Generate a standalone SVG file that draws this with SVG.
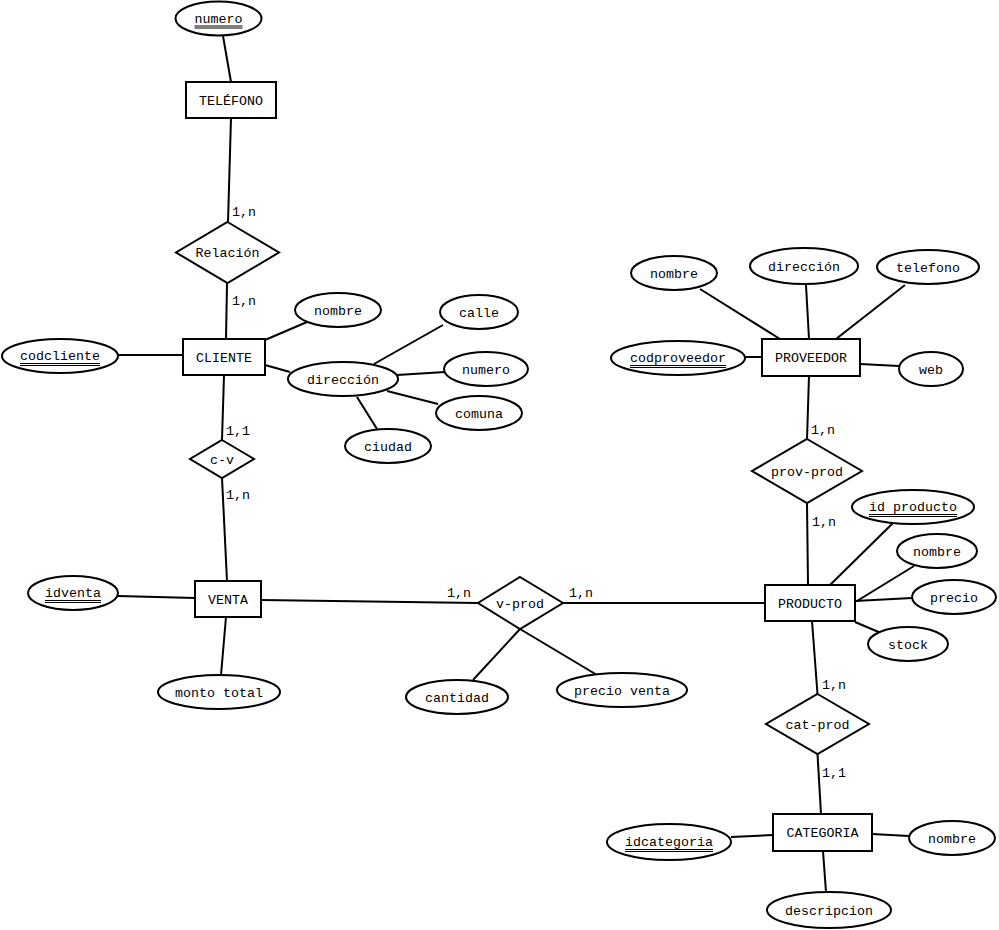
<svg xmlns="http://www.w3.org/2000/svg" width="999" height="930" viewBox="0 0 999 930">
<style>
.bg{fill:#fff}
.c line{stroke:#000;stroke-width:2}
.s{fill:#fff;stroke:#000;stroke-width:2}
text{font-family:"Liberation Mono","Courier New",monospace;font-size:13.3px;fill:#000}
.m{text-anchor:middle}
.u{stroke:#000;stroke-width:1.2}
</style>
<rect class="bg" x="0" y="0" width="999" height="930"/>
<g id="connectors" class="c">
<line x1="223" y1="36" x2="231" y2="82"/>
<line x1="231" y1="118" x2="228" y2="222"/>
<line x1="227" y1="283" x2="226" y2="339"/>
<line x1="118" y1="355" x2="183" y2="355"/>
<line x1="265" y1="340" x2="307" y2="322"/>
<line x1="265" y1="365" x2="290" y2="372"/>
<line x1="374" y1="364" x2="443" y2="325"/>
<line x1="397" y1="375" x2="445" y2="372"/>
<line x1="387" y1="391" x2="438" y2="404"/>
<line x1="357" y1="397" x2="377" y2="429"/>
<line x1="224" y1="375" x2="222" y2="440"/>
<line x1="222" y1="478" x2="227" y2="581"/>
<line x1="118" y1="596" x2="195" y2="598"/>
<line x1="226" y1="617" x2="221" y2="675"/>
<line x1="261" y1="600" x2="478" y2="603"/>
<line x1="520" y1="629" x2="473" y2="680"/>
<line x1="520" y1="629" x2="597" y2="675"/>
<line x1="563" y1="603" x2="765" y2="603"/>
<line x1="807" y1="503" x2="808" y2="585"/>
<line x1="830" y1="585" x2="893" y2="523"/>
<line x1="857" y1="601" x2="914" y2="566"/>
<line x1="855" y1="601" x2="912" y2="598"/>
<line x1="855" y1="622" x2="881" y2="633"/>
<line x1="812" y1="621" x2="817.5" y2="694"/>
<line x1="817.5" y1="754" x2="821" y2="814"/>
<line x1="731" y1="837" x2="773" y2="835"/>
<line x1="872" y1="834" x2="909" y2="836"/>
<line x1="823" y1="851" x2="826" y2="892"/>
<line x1="700" y1="289" x2="780" y2="339"/>
<line x1="806" y1="285" x2="809" y2="339"/>
<line x1="905" y1="285" x2="836" y2="339"/>
<line x1="745" y1="357" x2="762" y2="357"/>
<line x1="860" y1="364" x2="899" y2="366"/>
<line x1="809" y1="376" x2="807" y2="439"/>
</g>
<g id="cardinalities">
<text x="232" y="216">1,n</text>
<text x="232" y="305">1,n</text>
<text x="226" y="435">1,1</text>
<text x="226" y="499">1,n</text>
<text x="447" y="597">1,n</text>
<text x="569" y="597">1,n</text>
<text x="811" y="434">1,n</text>
<text x="812" y="526">1,n</text>
<text x="822" y="689">1,n</text>
<text x="822" y="777">1,1</text>
</g>
<g id="tel-numero"><ellipse class="s" cx="218.5" cy="18.5" rx="43" ry="17"/><text class="m" x="218.5" y="22.5">numero</text><line class="u" x1="194.5" y1="26" x2="242.5" y2="26"/><line class="u" x1="194.5" y1="28" x2="242.5" y2="28"/></g>
<g id="telefono-entity"><rect class="s" x="186" y="82" width="90" height="36"/><text class="m" x="231" y="104.5">TELÉFONO</text></g>
<g id="relacion"><polygon class="s" points="227.5,222 279,252.5 227.5,283 176,252.5"/><text class="m" x="227.5" y="257">Relación</text></g>
<g id="cliente"><rect class="s" x="183" y="339" width="82" height="36"/><text class="m" x="224" y="361.5">CLIENTE</text></g>
<g id="codcliente"><ellipse class="s" cx="60" cy="356" rx="58" ry="17"/><text class="m" x="60" y="360">codcliente</text><line class="u" x1="20" y1="363.5" x2="100" y2="363.5"/><line class="u" x1="20" y1="365.5" x2="100" y2="365.5"/></g>
<g id="cliente-nombre"><ellipse class="s" cx="338" cy="310" rx="43" ry="17"/><text class="m" x="338" y="314.5">nombre</text></g>
<g id="cliente-direccion"><ellipse class="s" cx="343" cy="379" rx="55" ry="17"/><text class="m" x="343" y="383.5">dirección</text></g>
<g id="calle"><ellipse class="s" cx="479" cy="312" rx="39" ry="17"/><text class="m" x="479" y="316.5">calle</text></g>
<g id="dir-numero"><ellipse class="s" cx="486" cy="369" rx="42" ry="17"/><text class="m" x="486" y="373.5">numero</text></g>
<g id="comuna"><ellipse class="s" cx="479" cy="413" rx="43" ry="17"/><text class="m" x="479" y="417.5">comuna</text></g>
<g id="ciudad"><ellipse class="s" cx="388" cy="446" rx="43" ry="17"/><text class="m" x="388" y="450.5">ciudad</text></g>
<g id="c-v"><polygon class="s" points="222,440 254,459 222,478 190,459"/><text class="m" x="222" y="463.5">c-v</text></g>
<g id="venta"><rect class="s" x="195" y="581" width="66" height="36"/><text class="m" x="228" y="603.5">VENTA</text></g>
<g id="idventa"><ellipse class="s" cx="73" cy="593" rx="45" ry="17"/><text class="m" x="73" y="597">idventa</text><line class="u" x1="45" y1="600.5" x2="101" y2="600.5"/><line class="u" x1="45" y1="602.5" x2="101" y2="602.5"/></g>
<g id="monto-total"><ellipse class="s" cx="219" cy="692" rx="61" ry="17"/><text class="m" x="219" y="696.5">monto total</text></g>
<g id="v-prod"><polygon class="s" points="520,577 563,603 520,629 478,603"/><text class="m" x="520" y="607.5">v-prod</text></g>
<g id="cantidad"><ellipse class="s" cx="457" cy="697" rx="51" ry="17"/><text class="m" x="457" y="701.5">cantidad</text></g>
<g id="precio-venta"><ellipse class="s" cx="622" cy="690" rx="65" ry="17"/><text class="m" x="622" y="694.5">precio venta</text></g>
<g id="producto"><rect class="s" x="765" y="585" width="90" height="36"/><text class="m" x="810" y="607.5">PRODUCTO</text></g>
<g id="id-producto"><ellipse class="s" cx="913" cy="507" rx="61" ry="17"/><text class="m" x="913" y="511">id producto</text><line class="u" x1="869" y1="514.5" x2="957" y2="514.5"/><line class="u" x1="869" y1="516.5" x2="957" y2="516.5"/></g>
<g id="producto-nombre"><ellipse class="s" cx="937" cy="551" rx="40" ry="17"/><text class="m" x="937" y="555.5">nombre</text></g>
<g id="precio"><ellipse class="s" cx="954" cy="597" rx="42" ry="17"/><text class="m" x="954" y="601.5">precio</text></g>
<g id="stock"><ellipse class="s" cx="908" cy="644" rx="40" ry="17"/><text class="m" x="908" y="648.5">stock</text></g>
<g id="cat-prod"><polygon class="s" points="817.5,694 869,724 817.5,754 766,724"/><text class="m" x="817.5" y="728.5">cat-prod</text></g>
<g id="categoria"><rect class="s" x="773" y="814" width="99" height="37"/><text class="m" x="822.5" y="836.5">CATEGORIA</text></g>
<g id="idcategoria"><ellipse class="s" cx="669" cy="842" rx="62" ry="18"/><text class="m" x="669" y="846">idcategoria</text><line class="u" x1="625" y1="849.5" x2="713" y2="849.5"/><line class="u" x1="625" y1="851.5" x2="713" y2="851.5"/></g>
<g id="categoria-nombre"><ellipse class="s" cx="952" cy="838" rx="43" ry="17"/><text class="m" x="952" y="842.5">nombre</text></g>
<g id="descripcion"><ellipse class="s" cx="829" cy="910" rx="62" ry="18"/><text class="m" x="829" y="914.5">descripcion</text></g>
<g id="proveedor"><rect class="s" x="762" y="339" width="98" height="37"/><text class="m" x="811" y="361.5">PROVEEDOR</text></g>
<g id="proveedor-nombre"><ellipse class="s" cx="674" cy="273" rx="43" ry="17"/><text class="m" x="674" y="277.5">nombre</text></g>
<g id="proveedor-direccion"><ellipse class="s" cx="804" cy="266" rx="54" ry="18"/><text class="m" x="804" y="270.5">dirección</text></g>
<g id="proveedor-telefono"><ellipse class="s" cx="928" cy="267" rx="51" ry="17"/><text class="m" x="928" y="271.5">telefono</text></g>
<g id="codproveedor"><ellipse class="s" cx="678" cy="358" rx="67" ry="17"/><text class="m" x="678" y="362">codproveedor</text><line class="u" x1="630" y1="365.5" x2="726" y2="365.5"/><line class="u" x1="630" y1="367.5" x2="726" y2="367.5"/></g>
<g id="web"><ellipse class="s" cx="931" cy="369" rx="32" ry="17"/><text class="m" x="931" y="373.5">web</text></g>
<g id="prov-prod"><polygon class="s" points="807,439 862,471 807,503 752,471"/><text class="m" x="807" y="475.5">prov-prod</text></g>
</svg>
